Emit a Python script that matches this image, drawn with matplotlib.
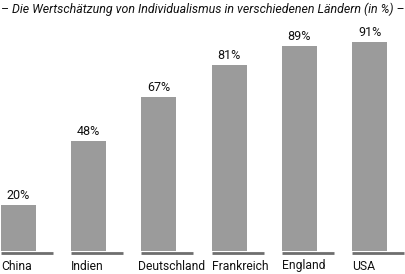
import matplotlib
matplotlib.use("Agg")
import matplotlib.pyplot as plt

categories = ["China", "Indien", "Deutschland", "Frankreich", "England", "USA"]
values = [20, 48, 67, 81, 89, 91]
value_labels = ["20%", "48%", "67%", "81%", "89%", "91%"]
title = "– Die Wertschätzung von Individualismus in verschiedenen Ländern (in %) –"

W, H = 405, 274
fig = plt.figure(figsize=(W / 100, H / 100), dpi=100)
ax = fig.add_axes([0, 0, 1, 1])
ax.axis("off")

step = 70.2      # px between bars
scale = 2.3      # px per percent
base_px = 23     # baseline distance from bottom in px
ax.set_xlim(-1 / step, (W - 1) / step)
ax.set_ylim(-base_px / scale, (H - base_px) / scale)

fam = ["Roboto", "DejaVu Sans"]
bw = 35 / step
sw = 52 / step
for i, (c, v, lab) in enumerate(zip(categories, values, value_labels)):
    ax.bar(i, v, width=bw, align="edge", color="#9b9b9b", edgecolor="none")
    ax.hlines(-2.2 / scale, i, i + sw, color="#6e6e6e", lw=2)
    ax.text(i + bw / 2, v + 3 / scale, lab, ha="center", va="bottom",
            fontsize=9, family=fam, color="#111111")
    ax.text(i + (-0.05 if c == "Deutschland" else 0), -15 / scale, c,
            ha="left", va="center", fontsize=8.7, family=fam, color="#111111")

fig.text(0.5, 1 - 9 / H, title, ha="center", va="center", fontsize=8.9,
         style="italic", family=fam, color="#111111")

fig.savefig("out.png", dpi=100)
